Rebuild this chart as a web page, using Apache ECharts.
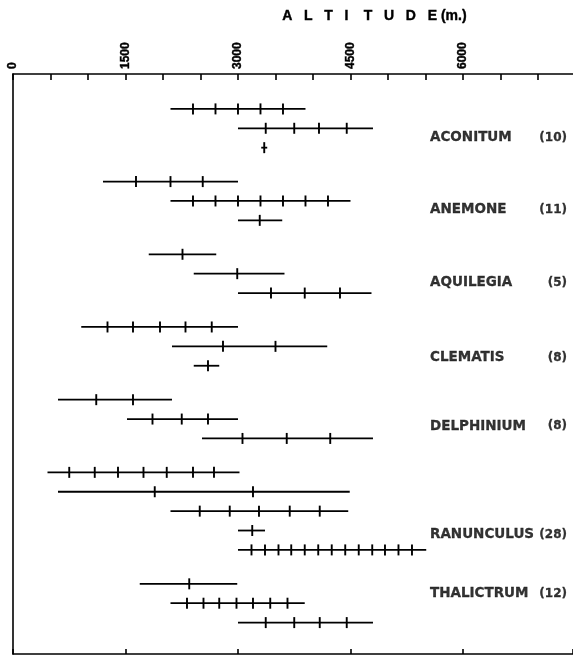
<!DOCTYPE html>
<html><head><meta charset="utf-8">
<script src="https://cdn.jsdelivr.net/npm/echarts@6/dist/echarts.min.js"></script>
<style>html,body{margin:0;padding:0;background:#fff}#c{width:573px;height:656px}</style>
</head><body><div id="c"></div>
<script>
// ---------- DATA ----------
const genera = ['ACONITUM','ANEMONE','AQUILEGIA','CLEMATIS','DELPHINIUM','RANUNCULUS','THALICTRUM'];
const counts = ['(10)','(11)','(5)','(8)','(8)','(28)','(12)'];
const tickLabels = [0, 1500, 3000, 4500, 6000];
// one entry per altitude range (row)
const rowGenus = [0,0,0, 1,1,1, 2,2,2, 3,3,3, 4,4,4, 5,5,5,5,5, 6,6,6];
const rowStart = [2100,3000,3310, 1200,2100,3000, 1810,2410,3000, 910,2120,2410, 600,1520,2520, 460,600,2100,3000,3000, 1690,2100,3000];
const rowEnd   = [3900,4800,3390, 3000,4500,3590, 2710,3620,4780, 3000,4190,2750, 2120,3000,4800, 3020,4490,4470,3360,5510, 2990,3890,4800];
const rowMarks = [
  [2400,2700,3000,3300,3600], [3370,3750,4080,4450], [3350],
  [1640,2100,2530], [2400,2700,3000,3300,3600,3900,4200], [3290],
  [2260], [2990], [3440,3890,4360],
  [1260,1600,1960,2300,2650], [2800,3500], [2600],
  [1110,1600], [1860,2250,2600], [3060,3650,4230],
  [750,1090,1400,1740,2050,2400,2680], [1890,3200], [2490,2890,3280,3690,4090], [3190],
  [3180,3360,3540,3710,3890,4070,4250,4430,4610,4790,4960,5140,5320],
  [2350], [2320,2540,2750,2980,3200,3430,3660], [3370,3750,4090,4450]
];

// ---------- LAYOUT ----------
const X_MAX = 7467;
const GROUP_GAP = 0.75;
const rowPos = rowGenus.map((g, i) => i + GROUP_GAP * g);
const labelPos = [1.5, 5.2, 8.97, 12.85, 16.36, 21.95, 25.0];
const pxToVal = px => (px - 13) * X_MAX / 560;
const nameX = pxToVal(430);
const countX = pxToVal(567);
const ink = '#000';
const fontFam = '"DejaVu Sans", "Liberation Sans", sans-serif';

const chart = echarts.init(document.getElementById('c'), null, {renderer: 'canvas'});
chart.setOption({
  animation: false,
  backgroundColor: '#fff',
  grid: {left: 13, right: 0, top: 74, bottom: 2, containLabel: false, outerBoundsMode: 'none'},
  graphic: [{
    type: 'text', left: 282, top: 9,
    style: {text: 'A   L   T   I    T   U   D   E (m.)', font: 'bold 14px "Liberation Sans", sans-serif',
            fill: ink, stroke: ink, lineWidth: 0.4}
  }],
  xAxis: [{
    type: 'value', position: 'top', min: 0, max: X_MAX, interval: 500,
    axisLine: {show: true, onZero: false, lineStyle: {color: ink, width: 1.6}},
    axisTick: {show: true, inside: true, length: 6, lineStyle: {color: ink, width: 1.6}},
    axisLabel: {
      show: true, rotate: -90, margin: 5, color: ink, showMinLabel: true, showMaxLabel: false,
      fontFamily: '"Liberation Sans", sans-serif', fontWeight: 'bold', fontSize: 12,
      textBorderColor: ink, textBorderWidth: 0.4,
      formatter: v => tickLabels.indexOf(v) >= 0 ? String(v) : ''
    },
    splitLine: {show: false}
  }, {
    type: 'value', position: 'bottom', min: 0, max: X_MAX, interval: 1500,
    axisLine: {show: true, onZero: false, lineStyle: {color: ink, width: 1.6}},
    axisTick: {show: true, inside: true, length: 5, lineStyle: {color: ink, width: 1.6}},
    axisLabel: {show: false},
    splitLine: {show: false}
  }],
  yAxis: {
    type: 'value', inverse: true, min: -1.8, max: 28.12,
    axisLine: {show: true, onZero: false, lineStyle: {color: ink, width: 1.6}},
    axisTick: {show: false}, axisLabel: {show: false}, splitLine: {show: false}
  },
  series: [{
    type: 'custom',
    coordinateSystem: 'cartesian2d',
    xAxisIndex: 0, yAxisIndex: 0,
    clip: false,
    data: rowStart.map((s, i) => [s, rowEnd[i], rowPos[i], i]),
    renderItem: (params, api) => {
      const i = api.value(3);
      const y = api.value(2);
      const a = api.coord([api.value(0), y]);
      const b = api.coord([api.value(1), y]);
      const children = [{
        type: 'line',
        shape: {x1: a[0], y1: a[1], x2: b[0], y2: b[1]},
        style: {stroke: ink, lineWidth: 1.8}
      }];
      rowMarks[i].forEach(m => {
        const p = api.coord([m, y]);
        children.push({
          type: 'line',
          shape: {x1: p[0], y1: p[1] - 5.5, x2: p[0], y2: p[1] + 5.5},
          style: {stroke: ink, lineWidth: 1.9}
        });
      });
      return {type: 'group', children};
    }
  }, {
    type: 'scatter', symbolSize: 0, silent: true,
    data: genera.map((g, i) => [nameX, labelPos[i]]),
    label: {
      show: true, position: 'right', distance: 0, color: ink,
      fontFamily: fontFam, fontWeight: 'bold', fontSize: 13.5,
      textBorderColor: ink, textBorderWidth: 0.3,
      formatter: p => genera[p.dataIndex]
    }
  }, {
    type: 'scatter', symbolSize: 0, silent: true,
    data: counts.map((c, i) => [countX, labelPos[i]]),
    label: {
      show: true, position: 'left', distance: 0, color: ink,
      fontFamily: fontFam, fontWeight: 'bold', fontSize: 12,
      textBorderColor: ink, textBorderWidth: 0.3,
      formatter: p => counts[p.dataIndex]
    }
  }]
});
</script>
</body></html>
